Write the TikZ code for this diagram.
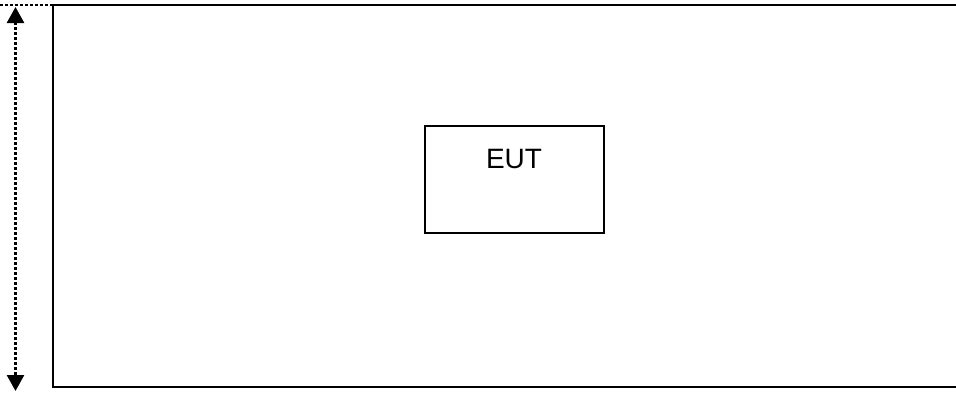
\documentclass[tikz,border=0pt]{standalone}
\usepackage{fontspec}
\setmainfont{Liberation Sans}
\usetikzlibrary{arrows.meta}
\begin{document}
\begin{tikzpicture}[x=1pt,y=-1pt,
  wall/.style={line width=2pt},
  dots/.style={line width=2.6pt,dash pattern=on 2.6pt off 2.4pt},
  eutbox/.style={draw,line width=1.8pt,minimum width=179pt,minimum height=107pt,inner sep=0pt}]
\useasboundingbox (0,0) rectangle (956,392);
% room outline
\coordinate (tl) at (53,5);
\coordinate (tr) at (956,5);
\coordinate (bl) at (53,387);
\coordinate (br) at (956,387);
\draw[wall] (tr) -- (tl) -- (bl) -- (br);
% dotted reference line
\coordinate (dl) at (0,5);
\draw[dots] (dl) -- (tl);
% height arrow
\coordinate (at) at (15.5,7);
\coordinate (ab) at (15.5,391);
\draw[dots,{Triangle[width=17pt,length=16pt]}-{Triangle[width=17pt,length=16pt]}] (at) -- (ab);
% EUT
\node[eutbox] (eut) at (514.5,179.5) {};
\node[font=\fontsize{28}{30}\selectfont,anchor=base] (lbl) at (514,168) {EUT};
\end{tikzpicture}
\end{document}
